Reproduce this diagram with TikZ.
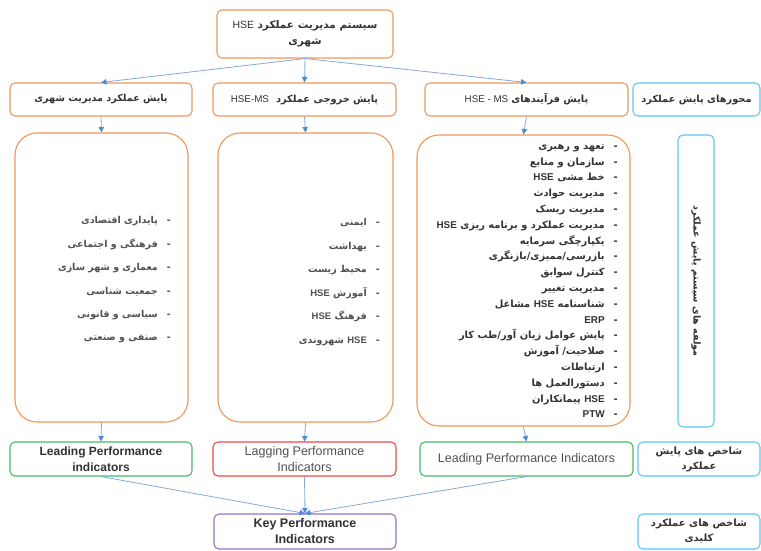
\documentclass[tikz,border=0pt]{standalone}
\usepackage{fontspec}
\setmainfont{Liberation Sans}
\newfontfamily\fa[Script=Arabic]{DejaVu Sans}
\newfontfamily\la{Liberation Sans}
\TeXXeTstate=1
\usetikzlibrary{arrows.meta}
\definecolor{orng}{RGB}{240,150,90}
\definecolor{lblue}{RGB}{90,200,245}
\definecolor{ablue}{RGB}{130,170,220}
\definecolor{ahead}{RGB}{80,140,210}
\definecolor{grn}{RGB}{70,185,100}
\definecolor{rd}{RGB}{240,70,70}
\definecolor{prp}{RGB}{150,110,190}
\definecolor{txt}{RGB}{50,50,50}
\definecolor{gtxt}{RGB}{80,80,80}
\newcommand\fatext[1]{{\fa\beginR #1\endR}}
\newcommand\lt[1]{\beginL{\la #1}\endL{}}
\newcommand\itm[1]{\beginR-\hspace{9pt}#1\endR}
\begin{document}
\begin{tikzpicture}[x=1pt,y=-1pt,
  box/.style={draw=orng, line width=1.1pt, rounded corners=5pt, text=txt, align=center, inner sep=0pt},
  big/.style={draw=orng, line width=1.1pt, rounded corners=22pt, inner sep=0pt},
  lbl/.style={draw=lblue, line width=1.1pt, rounded corners=5pt, text=txt, align=center, inner sep=0pt},
  ind/.style={line width=1.1pt, rounded corners=5pt, text=txt, align=center, inner sep=0pt},
  lst/.style={align=right, anchor=east, inner sep=0pt},
  arr/.style={draw=ablue, line width=0.8pt, -{Triangle[length=5.5pt,width=5.5pt,color=ahead]}}]
\useasboundingbox (0,0) rectangle (761,550);

% top
\node[box, minimum width=176, minimum height=48, font=\fontsize{10.5}{16}\selectfont] (top) at (305,34)
  {\fatext{\textbf{سیستم مدیریت عملکرد} \lt{HSE}}\\ \fatext{\textbf{شهری}}};

% headers
\node[box, minimum width=182, minimum height=33, font=\fontsize{9.6}{12}\selectfont] (h1) at (101,99.5)
  {\fatext{\textbf{پایش عملکرد مدیریت شهری}}};
\node[box, minimum width=183, minimum height=33, font=\fontsize{9.8}{12}\selectfont] (h2) at (304.5,99.5)
  {\fatext{\textbf{پایش خروجی عملکرد}\hspace{4pt} \lt{HSE-MS}}};
\node[box, minimum width=203, minimum height=33, font=\fontsize{9.8}{12}\selectfont] (h3) at (526.5,99.5)
  {\fatext{\textbf{پایش فرآیندهای} \lt{HSE - MS}}};
\node[lbl, minimum width=127, minimum height=33, font=\fontsize{9.8}{12}\selectfont] (h4) at (696.5,99.5)
  {\fatext{\textbf{محورهای پایش عملکرد}}};

% big boxes
\node[big, minimum width=173, minimum height=289] (b1) at (101.5,277.5) {};
\node[big, minimum width=175, minimum height=289] (b2) at (305.5,277.5) {};
\node[big, minimum width=213, minimum height=291] (b3) at (523.5,280.5) {};
\node[lbl, minimum width=292, minimum height=36, rotate=-90, font=\fontsize{9.5}{12}\selectfont] (vl) at (696,281)
  {\fatext{\textbf{مولفه های سیستم پایش عملکرد}}};

% lists
\node[lst, text=gtxt, font=\fa\bfseries\fontsize{9.5}{23.4}\selectfont] (l1t) at (171,280)
  {\itm{پایداری اقتصادی}\\ \itm{فرهنگی و اجتماعی}\\ \itm{معماری و شهر سازی}\\ \itm{جمعیت شناسی}\\ \itm{سیاسی و قانونی}\\ \itm{صنفی و صنعتی}};
\node[lst, text=gtxt, font=\fa\bfseries\fontsize{9.5}{23.6}\selectfont] (l2t) at (380,282)
  {\itm{ایمنی}\\ \itm{بهداشت}\\ \itm{محیط زیست}\\ \itm{آموزش \lt{HSE}}\\ \itm{فرهنگ \lt{HSE}}\\ \itm{\lt{HSE} شهروندی}};
\node[lst, text=txt, font=\fa\bfseries\fontsize{9.9}{15.8}\selectfont] (l3t) at (618,281)
  {\itm{تعهد و رهبری}\\ \itm{سازمان و منابع}\\ \itm{خط مشی \lt{HSE}}\\ \itm{مدیریت حوادث}\\ \itm{مدیریت ریسک}\\
   \itm{مدیریت عملکرد و برنامه ریزی \lt{HSE}}\\ \itm{یکپارچگی سرمایه}\\ \itm{بازرسی/ممیزی/بازنگری}\\ \itm{کنترل سوابق}\\
   \itm{مدیریت تغییر}\\ \itm{شناسنامه \lt{HSE} مشاغل}\\ \itm{\lt{ERP}}\\ \itm{پایش عوامل زیان آور/طب کار}\\ \itm{صلاحیت/ آموزش}\\
   \itm{ارتباطات}\\ \itm{دستورالعمل ها}\\ \itm{\lt{HSE} پیمانکاران}\\ \itm{\lt{PTW}}};

% indicator boxes
\node[ind, draw=grn, minimum width=182, minimum height=34, font=\bfseries\fontsize{12}{16}\selectfont] (i1) at (101,459)
  {Leading Performance\\indicators};
\node[ind, draw=rd, minimum width=183, minimum height=34, text=gtxt, font=\fontsize{12.5}{16}\selectfont] (i2) at (304.5,459)
  {Lagging Performance\\Indicators};
\node[ind, draw=grn, minimum width=213, minimum height=34, text=gtxt, font=\fontsize{12.5}{16}\selectfont] (i3) at (526.5,459)
  {Leading Performance Indicators};
\node[lbl, minimum width=122, minimum height=34, font=\fontsize{10}{15}\selectfont] (i4) at (699,459)
  {\fatext{\textbf{شاخص های پایش}}\\ \fatext{\textbf{عملکرد}}};
\node[ind, draw=prp, minimum width=182, minimum height=35, font=\bfseries\fontsize{12.5}{16}\selectfont] (key) at (305,531.5)
  {Key Performance\\Indicators};
\node[lbl, minimum width=122, minimum height=35, font=\fontsize{10}{15}\selectfont] (k4) at (699,531.5)
  {\fatext{\textbf{شاخص های عملکرد}}\\ \fatext{\textbf{کلیدی}}};

% connectors
\draw[arr] (top.south) -- (h1.north);
\draw[arr] (top.south) -- (h2.north);
\draw[arr] (top.south) -- (h3.north);
\draw[arr] (h1.south) -- (b1.north);
\draw[arr] (h2.south) -- (b2.north);
\draw[arr] (h3.south) -- (b3.north);
\draw[arr] (b1.south) -- (i1.north);
\draw[arr] (b2.south) -- (i2.north);
\draw[arr] (b3.south) -- (i3.north);
\draw[arr] (i1.south) -- (key.north);
\draw[arr] (i2.south) -- (key.north);
\draw[arr] (i3.south) -- (key.north);
\end{tikzpicture}
\end{document}
